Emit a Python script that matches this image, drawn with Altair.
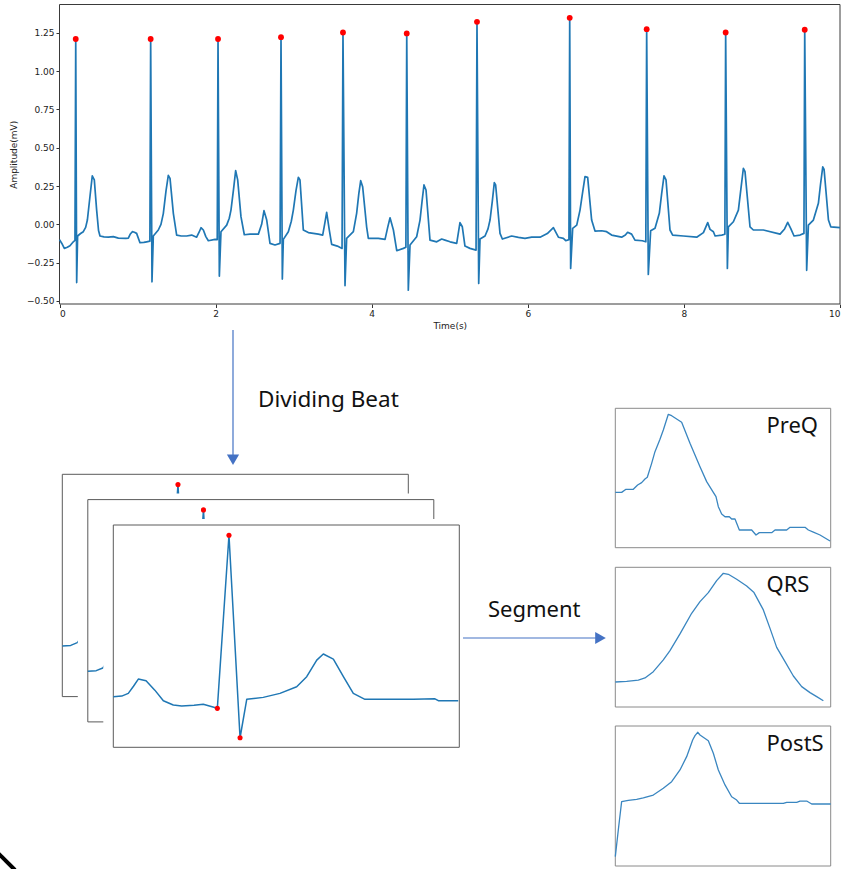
import altair as alt
import pandas as pd

# ------------------------------------------------------------------ data
ecg_t = [0.000, 0.030, 0.062, 0.100, 0.134, 0.177, 0.198, 0.208, 0.220, 0.232, 0.270, 0.305, 0.335, 0.357,
         0.390, 0.420, 0.446, 0.476, 0.500, 0.519, 0.570, 0.626, 0.690, 0.754, 0.850, 0.882, 0.905, 0.933,
         0.960, 0.988, 1.031, 1.080, 1.117, 1.158, 1.168, 1.185, 1.202, 1.266, 1.300, 1.330, 1.365, 1.394,
         1.416, 1.459, 1.501, 1.560, 1.629, 1.693, 1.757, 1.790, 1.813, 1.843, 1.875, 1.907, 1.993, 2.021,
         2.031, 2.048, 2.069, 2.142, 2.175, 2.197, 2.230, 2.257, 2.283, 2.325, 2.368, 2.441, 2.548, 2.590,
         2.620, 2.655, 2.697, 2.761, 2.826, 2.838, 2.855, 2.868, 2.932, 2.970, 2.996, 3.030, 3.060, 3.081,
         3.124, 3.188, 3.316, 3.372, 3.400, 3.423, 3.457, 3.487, 3.560, 3.620, 3.632, 3.658, 3.679, 3.765,
         3.807, 3.835, 3.859, 3.884, 3.935, 3.957, 4.085, 4.171, 4.205, 4.235, 4.278, 4.321, 4.406, 4.438,
         4.449, 4.469, 4.491, 4.576, 4.619, 4.645, 4.670, 4.696, 4.747, 4.833, 4.897, 4.939, 5.004, 5.089,
         5.131, 5.161, 5.195, 5.259, 5.337, 5.349, 5.371, 5.388, 5.452, 5.490, 5.516, 5.545, 5.571, 5.588,
         5.644, 5.674, 5.793, 5.880, 5.964, 6.050, 6.157, 6.250, 6.328, 6.392, 6.456, 6.486, 6.527, 6.537,
         6.549, 6.575, 6.627, 6.669, 6.700, 6.733, 6.767, 6.818, 6.861, 6.946, 7.010, 7.074, 7.202, 7.250,
         7.279, 7.330, 7.373, 7.467, 7.512, 7.523, 7.544, 7.574, 7.630, 7.685, 7.715, 7.745, 7.771, 7.822,
         7.856, 7.993, 8.164, 8.250, 8.305, 8.335, 8.378, 8.400, 8.485, 8.525, 8.535, 8.557, 8.570, 8.634,
         8.698, 8.730, 8.762, 8.783, 8.847, 8.890, 9.018, 9.232, 9.290, 9.330, 9.368, 9.411, 9.488, 9.538,
         9.548, 9.573, 9.595, 9.659, 9.723, 9.750, 9.779, 9.796, 9.852, 9.882, 10.000]
ecg_mv = [-0.100, -0.125, -0.157, -0.150, -0.140, -0.114, -0.105, 1.210, -0.380, -0.076, -0.060, -0.048, -0.020, 0.028,
          0.180, 0.316, 0.290, 0.093, -0.040, -0.076, -0.082, -0.084, -0.080, -0.090, -0.092, -0.090, -0.065, -0.048,
          -0.052, -0.059, -0.120, -0.118, -0.114, -0.110, 1.210, -0.375, -0.076, -0.037, 0.000, 0.070, 0.220, 0.320,
          0.300, 0.070, -0.070, -0.076, -0.076, -0.070, -0.084, -0.050, -0.022, -0.037, -0.080, -0.107, -0.098, -0.100,
          1.210, -0.338, -0.048, -0.005, 0.040, 0.093, 0.230, 0.350, 0.290, 0.050, -0.068, -0.064, -0.064, 0.000,
          0.089, 0.028, -0.124, -0.135, -0.124, 1.222, -0.357, -0.098, -0.048, 0.020, 0.093, 0.220, 0.307, 0.290,
          -0.037, -0.054, -0.064, -0.070, 0.010, 0.078, -0.037, -0.131, -0.142, -0.157, 1.252, -0.400, -0.092, -0.048,
          0.072, 0.200, 0.285, 0.246, -0.016, -0.092, -0.092, -0.098, -0.020, 0.043, -0.037, -0.172, -0.157, -0.150,
          1.246, -0.430, -0.135, -0.081, 0.028, 0.150, 0.257, 0.224, -0.103, -0.114, -0.096, -0.103, -0.114, -0.124,
          0.011, -0.016, -0.142, -0.157, -0.168, 1.322, -0.386, -0.096, -0.076, -0.030, 0.028, 0.150, 0.272, 0.257,
          -0.059, -0.096, -0.076, -0.085, -0.092, -0.084, -0.084, -0.060, -0.022, -0.084, -0.092, -0.107, -0.100, 1.348,
          -0.288, -0.026, -0.005, 0.093, 0.200, 0.311, 0.307, 0.028, -0.044, -0.042, -0.048, -0.070, -0.084, -0.070,
          -0.052, -0.064, -0.103, -0.107, -0.114, 1.274, -0.327, -0.042, -0.026, 0.072, 0.200, 0.316, 0.290, -0.037,
          -0.070, -0.076, -0.084, -0.054, 0.011, -0.033, -0.048, -0.076, -0.070, -0.065, 1.252, -0.288, -0.016, 0.017,
          0.093, 0.230, 0.366, 0.344, -0.016, -0.037, -0.037, -0.064, -0.030, 0.013, -0.026, -0.076, -0.070, -0.059,
          1.270, -0.300, -0.005, 0.028, 0.137, 0.260, 0.375, 0.359, 0.028, -0.016, -0.022]

r_peak_t = [0.208, 1.168, 2.031, 2.838, 3.632, 4.449, 5.349, 6.537, 7.523, 8.535, 9.548]
r_peak_mv = [1.210, 1.210, 1.210, 1.222, 1.252, 1.246, 1.322, 1.348, 1.274, 1.252, 1.270]

time_ticks = [0, 2, 4, 6, 8, 10]
amp_ticks = [-0.5, -0.25, 0.0, 0.25, 0.5, 0.75, 1.0, 1.25]

# one divided beat (sample index, mV)
beat_s = [0, 7.3, 13, 17.5, 21.7, 28.4, 36, 43.4, 52, 59.3, 70, 78, 90.2, 100.3, 109.9, 115.7, 130, 144.5,
          159, 167.7, 176.4, 182.1, 190.8, 199.5, 208.1, 218.2, 240, 260.1, 278.9, 281.8, 299.1]
beat_mv = [-0.031, -0.026, -0.005, 0.050, 0.106, 0.093, 0.020, -0.062, -0.095, -0.103, -0.098, -0.090, -0.121,
           1.220, -0.349, -0.051, -0.036, -0.005, 0.046, 0.124, 0.253, 0.300, 0.261, 0.124, -0.005, -0.051,
           -0.051, -0.051, -0.047, -0.062, -0.062]
fiducial_s = [90.2, 100.3, 109.9]
fiducial_mv = [-0.121, 1.220, -0.349]

# segments (sample index, normalised amplitude)
preq_s = [0, 1.9, 3.2, 5.4, 6.7, 7.9, 8.9, 9.6, 10.9, 11.9, 13.4, 14.4, 15.9, 16.9, 19.9, 22.4, 25.4, 27.4,
          29.4, 30.2, 30.9, 31.9, 32.9, 34.2, 34.9, 35.9, 37.2, 40.9, 42.2, 43.2, 46.9, 47.9, 51.4, 52.4, 56.9,
          57.9, 59.4, 61.4, 64.4]
preq_v = [0.397, 0.397, 0.419, 0.419, 0.450, 0.467, 0.493, 0.505, 0.605, 0.689, 0.778, 0.844, 0.957, 0.947,
          0.900, 0.749, 0.581, 0.474, 0.397, 0.366, 0.294, 0.242, 0.222, 0.222, 0.206, 0.206, 0.127, 0.127,
          0.091, 0.108, 0.108, 0.127, 0.127, 0.146, 0.146, 0.127, 0.112, 0.091, 0.048]
qrs_s = [0, 3.4, 6.9, 8.9, 11.4, 14.4, 16.4, 19.4, 22.9, 25.4, 27.9, 30.4, 32.4, 33.9, 36.4, 39.4, 41.6, 44.4,
         46.4, 48.4, 50.9, 53.4, 55.9, 58.4, 60.4, 62.4]
qrs_v = [0.179, 0.184, 0.193, 0.208, 0.253, 0.337, 0.403, 0.523, 0.671, 0.754, 0.819, 0.905, 0.957, 0.950,
         0.914, 0.866, 0.819, 0.695, 0.563, 0.427, 0.325, 0.222, 0.146, 0.103, 0.074, 0.045]
posts_s = [0, 0.9, 1.9, 3.9, 6.4, 8.4, 11.4, 14.4, 16.9, 19.4, 21.4, 23.2, 23.9, 24.7, 25.4, 27.9, 29.4, 30.9,
           32.9, 34.9, 36.4, 37.2, 43.4, 50.4, 51.4, 54.4, 55.4, 57.4, 58.9, 64.6]
posts_v = [0.067, 0.257, 0.460, 0.469, 0.476, 0.486, 0.507, 0.555, 0.602, 0.686, 0.781, 0.900, 0.931, 0.955,
           0.936, 0.895, 0.805, 0.686, 0.579, 0.495, 0.471, 0.448, 0.448, 0.448, 0.455, 0.455, 0.464, 0.464,
           0.443, 0.443]

segment_names = ["PreQ", "QRS", "PostS"]

# ------------------------------------------------------------------ layout / style
W, H = 845, 869
ECG_XDOM, ECG_YDOM = [0, 10], [-0.52, 1.435]
ECG_XR, ECG_YR = [59.5, 840], [304, 4.5]

BEAT_XDOM, BEAT_YDOM = [0, 300], [-0.423, 1.30]
BEAT_W, BEAT_H = 346, 222.3
BEAT_ORIGINS = [(62.3, 474.3), (87.8, 499.6), (113.3, 525.0)]
OCC_LEFT_PX, OCC_TOP_PX = 10, 6

SEG_XDOM, SEG_YDOM = [0, 64.6], [0, 1]
SEG_XR = [615.3, 830.7]
SEG_YR = [[547.7, 408.3], [707.0, 567.3], [866.0, 726.0]]

BLUE = "#1f77b4"
SEG_BLUE = "#3a86c0"
ARROW = "#4472c4"
FONT = "Noto Sans"
MPL_FONT = "DejaVu Sans"


def scale(dom, rng):
    return alt.Scale(domain=dom, range=rng, nice=False, zero=False)


def rect(xd, yd, sx, sy, **kw):
    df = pd.DataFrame({"x0": [xd[0]], "x1": [xd[1]], "y0": [yd[0]], "y1": [yd[1]]})
    return alt.Chart(df).mark_rect(**kw).encode(
        x=alt.X("x0:Q", scale=sx, axis=None), x2="x1:Q",
        y=alt.Y("y0:Q", scale=sy, axis=None), y2="y1:Q")


def line(xs, ys, sx, sy, color, sw, xaxis=None, yaxis=None):
    df = pd.DataFrame({"x": xs, "y": ys, "i": list(range(len(xs)))})
    return alt.Chart(df).mark_line(color=color, strokeWidth=sw, strokeJoin="round").encode(
        x=alt.X("x:Q", scale=sx, axis=xaxis),
        y=alt.Y("y:Q", scale=sy, axis=yaxis),
        order="i:Q")


def dots(xs, ys, sx, sy, size):
    df = pd.DataFrame({"x": xs, "y": ys})
    return alt.Chart(df).mark_point(filled=True, color="#ff0000", opacity=1, size=size).encode(
        x=alt.X("x:Q", scale=sx, axis=None), y=alt.Y("y:Q", scale=sy, axis=None))


one = pd.DataFrame({"k": [0]})
layers = []

# ---- top ECG chart
sx, sy = scale(ECG_XDOM, ECG_XR), scale(ECG_YDOM, ECG_YR)
layers.append(rect(ECG_XDOM, ECG_YDOM, sx, sy, fill="white", stroke="#3a3a3a", strokeWidth=1))
xaxis = alt.Axis(orient="bottom", offset=ECG_YR[0] - H, values=time_ticks, format="d", title="Time(s)",
                 domain=False, grid=False, tickSize=3.5, tickColor="#333", labelFontSize=9, titleFontSize=9,
                 labelFont=MPL_FONT, titleFont=MPL_FONT, titleFontWeight="normal", labelColor="#222",
                 titleColor="#222", labelPadding=2, titlePadding=3)
yaxis = alt.Axis(orient="left", offset=-ECG_XR[0], values=amp_ticks, format=".2f", title="Amplitude(mV)",
                 domain=False, grid=False, tickSize=3.5, tickColor="#333", labelFontSize=9, titleFontSize=9,
                 labelFont=MPL_FONT, titleFont=MPL_FONT, titleFontWeight="normal", labelColor="#222",
                 titleColor="#222", labelPadding=2, titlePadding=8)
layers.append(line(ecg_t, ecg_mv, sx, sy, BLUE, 1.7, xaxis, yaxis))
layers.append(dots(r_peak_t, r_peak_mv, sx, sy, 34))

# ---- stacked beat frames
px_per_s = BEAT_W / (BEAT_XDOM[1] - BEAT_XDOM[0])
px_per_mv = BEAT_H / (BEAT_YDOM[1] - BEAT_YDOM[0])
for k, (ox, oy) in enumerate(BEAT_ORIGINS):
    sx = scale(BEAT_XDOM, [ox, ox + BEAT_W])
    sy = scale(BEAT_YDOM, [oy + BEAT_H, oy])
    if k > 0:
        layers.append(rect([BEAT_XDOM[0] - OCC_LEFT_PX / px_per_s, BEAT_XDOM[1]],
                           [BEAT_YDOM[0], BEAT_YDOM[1] + OCC_TOP_PX / px_per_mv],
                           sx, sy, fill="white", strokeOpacity=0))
    layers.append(rect(BEAT_XDOM, BEAT_YDOM, sx, sy, fill="white", stroke="#5a5a5a", strokeWidth=1))
    layers.append(line(beat_s, beat_mv, sx, sy, BLUE, 1.5))
    layers.append(dots(fiducial_s, fiducial_mv, sx, sy, 26))

# ---- segment panels
seg_data = [(preq_s, preq_v), (qrs_s, qrs_v), (posts_s, posts_v)]
for name, (xs, ys), yr in zip(segment_names, seg_data, SEG_YR):
    sx, sy = scale(SEG_XDOM, SEG_XR), scale(SEG_YDOM, yr)
    layers.append(rect(SEG_XDOM, SEG_YDOM, sx, sy, fill="white", stroke="#8a8a8a", strokeWidth=1))
    layers.append(line(xs, ys, sx, sy, SEG_BLUE, 1.3))
    layers.append(alt.Chart(one).mark_text(text=name, align="left", baseline="alphabetic", fontSize=22,
                                           font=FONT, color="#111").encode(
        x=alt.value(766.5), y=alt.value(yr[1] + 25)))

# ---- arrows and captions
layers.append(alt.Chart(one).mark_rule(color=ARROW, strokeWidth=1.2).encode(
    x=alt.value(233), y=alt.value(330), y2=alt.value(457)))
layers.append(alt.Chart(one).mark_point(shape="triangle-down", filled=True, color=ARROW, opacity=1,
                                        size=150).encode(x=alt.value(233), y=alt.value(459.8)))
layers.append(alt.Chart(one).mark_rule(color=ARROW, strokeWidth=1.2).encode(
    x=alt.value(463), x2=alt.value(598), y=alt.value(638)))
layers.append(alt.Chart(one).mark_point(shape="triangle-right", filled=True, color=ARROW, opacity=1,
                                        size=150).encode(x=alt.value(600.5), y=alt.value(638)))
layers.append(alt.Chart(one).mark_text(text="Dividing Beat", align="left", baseline="middle", fontSize=22.5,
                                       font=FONT, color="#111").encode(x=alt.value(258), y=alt.value(400)))
layers.append(alt.Chart(one).mark_text(text="Segment", align="left", baseline="middle", fontSize=22,
                                       font=FONT, color="#111").encode(x=alt.value(488), y=alt.value(610)))
layers.append(alt.Chart(one).mark_rule(color="#000", strokeWidth=4).encode(
    x=alt.value(-2), x2=alt.value(15), y=alt.value(853), y2=alt.value(870)))

chart = alt.layer(*layers).resolve_scale(x="independent", y="independent").properties(
    width=W, height=H, autosize=alt.AutoSizeParams(type="none"), padding=0, background="white"
).configure_view(stroke=None)

chart.save("out.html", embed_options={"renderer": "svg", "actions": False})
